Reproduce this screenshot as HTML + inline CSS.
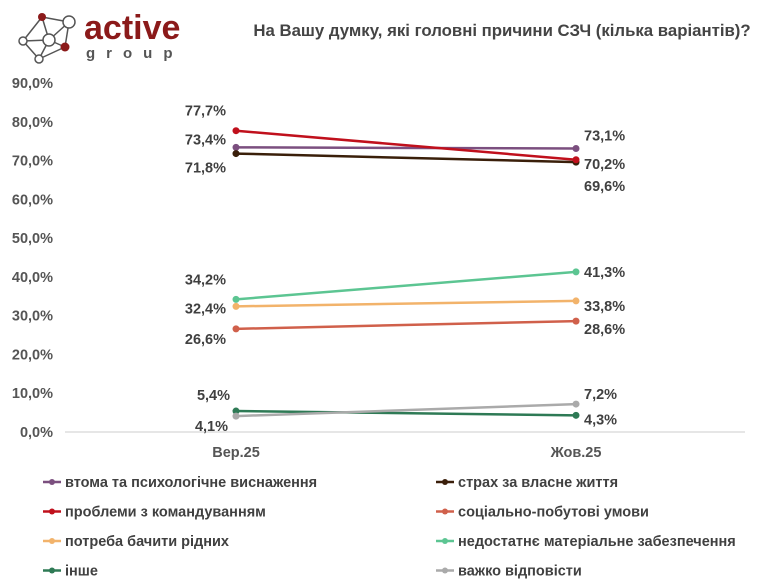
<!DOCTYPE html>
<html><head><meta charset="utf-8"><style>
body{margin:0;background:#fff;font-family:"Liberation Sans","DejaVu Sans",sans-serif;}
#wrap{position:relative;width:780px;height:585px;overflow:hidden;}
svg text{font-family:"Liberation Sans","DejaVu Sans",sans-serif;}
</style></head><body><div id="wrap">
<svg id="chart" width="780" height="585">
<g>
<g stroke="#555" stroke-width="1.5" fill="none">
<line x1="42" y1="17" x2="69" y2="22"/><line x1="42" y1="17" x2="23" y2="41"/><line x1="42" y1="17" x2="49" y2="40"/>
<line x1="69" y1="22" x2="49" y2="40"/><line x1="69" y1="22" x2="65" y2="47"/><line x1="23" y1="41" x2="49" y2="40"/>
<line x1="23" y1="41" x2="39" y2="59"/><line x1="49" y1="40" x2="39" y2="59"/><line x1="49" y1="40" x2="65" y2="47"/><line x1="65" y1="47" x2="39" y2="59"/>
</g>
<circle cx="42" cy="17" r="4" fill="#8b1a1a"/><circle cx="69" cy="22" r="6" fill="#fff" stroke="#555" stroke-width="1.5"/>
<circle cx="23" cy="41" r="4" fill="#fff" stroke="#555" stroke-width="1.5"/><circle cx="49" cy="40" r="6" fill="#fff" stroke="#555" stroke-width="1.5"/>
<circle cx="65" cy="47" r="4.5" fill="#8b1a1a"/><circle cx="39" cy="59" r="4" fill="#fff" stroke="#555" stroke-width="1.5"/>
<text x="84" y="39" font-size="34" font-weight="bold" fill="#8b1a1a">active</text>
<text x="86" y="58" font-size="15" font-weight="bold" fill="#555" letter-spacing="11">group</text>
</g>
<text x="502" y="36" font-size="16.8" font-weight="bold" fill="#444" text-anchor="middle">На Вашу думку, які головні причини СЗЧ (кілька варіантів)?</text>
<g id="axes"></g><g id="series"></g><g id="legend"></g>
</svg></div>
<script>
const categories=["Вер.25","Жов.25"];
const yTicks=[0,10,20,30,40,50,60,70,80,90];
const seriesNames=["втома та психологічне виснаження","страх за власне життя","проблеми з командуванням","соціально-побутові умови","потреба бачити рідних","недостатнє матеріальне забезпечення","інше","важко відповісти"];
const valuesSep=[73.4,71.8,77.7,26.6,32.4,34.2,5.4,4.1];
const valuesOct=[73.1,69.6,70.2,28.6,33.8,41.3,4.3,7.2];
const colors=["#7b4f7f","#3a1f0a","#c0101c","#d0604b","#f2b36b","#5cc592","#2e7a55","#aaaaaa"];
// label offsets [dx,dy] for Sep / Oct (styling)
const offSep=[[-10,-8],[-10,14],[-10,-20],[-10,10],[-10,2],[-10,-20],[-6,-16],[-8,10]];
const offOct=[[8,-13],[8,24],[8,4],[8,8],[8,5],[8,0],[8,4],[8,-10]];
const NS="http://www.w3.org/2000/svg";
const y=v=>432-v*(349/90);
const x=i=>236+i*340;
function mk(tag,attrs,parent,txt){const e=document.createElementNS(NS,tag);for(const k in attrs)e.setAttribute(k,attrs[k]);if(txt!==undefined)e.textContent=txt;parent.appendChild(e);return e;}
const fmt=v=>v.toFixed(1).replace('.',',')+'%';
const axes=document.getElementById('axes');
yTicks.forEach(t=>{const e=mk('text',{x:53,y:y(t)+5,'font-size':14.5,'font-weight':'bold',fill:'#555','text-anchor':'end'},axes,fmt(t));

});
const ax=mk('line',{x1:65,y1:432,x2:745,y2:432,stroke:'#ccc','stroke-width':1},axes);


categories.forEach((c,i)=>{const e=mk('text',{x:x(i),y:457,'font-size':14.5,'font-weight':'bold',fill:'#555','text-anchor':'middle'},axes,c);

});
const sg=document.getElementById('series');
seriesNames.forEach((n,s)=>{
const g=mk('g',{},sg);


const vals=[valuesSep[s],valuesOct[s]];
mk('line',{x1:x(0),y1:y(vals[0]),x2:x(1),y2:y(vals[1]),stroke:colors[s],'stroke-width':2.5},g);
vals.forEach((v,i)=>{
const p=mk('circle',{cx:x(i),cy:y(v),r:3.5,fill:colors[s]},g);


const o=i?offOct[s]:offSep[s];
const l=mk('text',{x:x(i)+o[0],y:y(v)+o[1]+5,'font-size':14.5,'font-weight':'bold',fill:'#404040','text-anchor':i?'start':'end'},g,fmt(v));


});});
const lg=document.getElementById('legend');
seriesNames.forEach((n,s)=>{
const col=s%2,row=Math.floor(s/2);const lx=col?436:43,ly=482+row*29.5;
const g=mk('g',{},lg);


mk('line',{x1:lx,y1:ly,x2:lx+18,y2:ly,stroke:colors[s],'stroke-width':2.5},g);
mk('circle',{cx:lx+9,cy:ly,r:3,fill:colors[s]},g);
mk('text',{x:lx+22,y:ly+5,'font-size':14.5,'font-weight':'bold',fill:'#404040'},g,n);
});
</script></body></html>
